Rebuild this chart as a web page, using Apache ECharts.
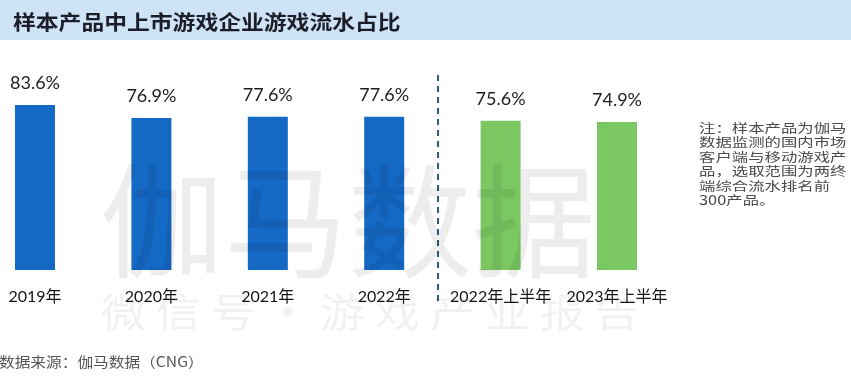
<!DOCTYPE html>
<html>
<head>
<meta charset="utf-8">
<script src="https://cdn.jsdelivr.net/npm/echarts@6/dist/echarts.min.js"></script>
<style>
html,body{margin:0;padding:0;background:#fff;}
#c{width:851px;height:383px;}
</style>
</head>
<body>
<div id="c"></div>
<script>
const categories = ['2019年', '2020年', '2021年', '2022年', '2022年上半年', '2023年上半年'];
const shareValues = [83.6, 76.9, 77.6, 77.6, 75.6, 74.9];
const annualCount = 4;
const titleText = '样本产品中上市游戏企业游戏流水占比';
const noteText = '注：样本产品为伽马\n数据监测的国内市场\n客户端与移动游戏产\n品，选取范围为两终\n端综合流水排名前\n300产品。';
const sourceText = '数据来源：伽马数据（CNG）';

const chart = echarts.init(document.getElementById('c'), null, {renderer: 'canvas'});
const CJK = "'Noto Sans CJK SC', 'Noto Sans', sans-serif";
const LAT = "Lato, 'Noto Sans CJK SC', sans-serif";

chart.setOption({
  backgroundColor: '#ffffff',
  animation: false,
  grid: {left: 35, right: 234, top: 72.5, bottom: 113, containLabel: false},
  xAxis: {
    type: 'category',
    data: categories,
    boundaryGap: false,
    axisLine: {show: false},
    axisTick: {show: false},
    axisLabel: {color: '#151515', fontSize: 16, fontFamily: LAT, margin: 19, interval: 0}
  },
  yAxis: {type: 'value', min: 0, max: 100, show: false, splitLine: {show: false}},
  series: [{
    type: 'bar',
    data: shareValues,
    barWidth: 40,
    itemStyle: {
      color: (p) => p.dataIndex < annualCount ? '#1469c4' : '#7bc862'
    },
    label: {
      show: true,
      position: 'top',
      distance: 13,
      formatter: (p) => p.value.toFixed(1) + '%',
      color: '#1e1e1e',
      fontSize: 18,
      fontFamily: LAT
    },
    z: 2
  }],
  graphic: [
    {type: 'rect', z: 0, shape: {x: 0, y: 0, width: 851, height: 40}, style: {fill: '#cfe3f6'}},
    {type: 'text', z: 10, x: 13, y: 22.5, scaleX: 1.14,
      style: {text: titleText, font: 'bold 20px ' + CJK, fill: '#1b1d28', verticalAlign: 'middle', align: 'left'}},
    {type: 'line', z: 5, shape: {x1: 438, y1: 75, x2: 438, y2: 303},
      style: {stroke: '#2b5d7a', lineWidth: 2, lineDash: [6, 5]}},
    {type: 'text', z: 10, x: 699, y: 121, scaleX: 1.31,
      style: {text: noteText, font: '12.5px ' + CJK, fill: '#4a4a4a', lineHeight: 14.4, align: 'left', verticalAlign: 'top'}},
    {type: 'text', z: 10, x: -1, y: 361.5, scaleX: 1.12,
      style: {text: sourceText, font: '14px ' + CJK, fill: '#555555', verticalAlign: 'middle', align: 'left'}},
    {type: 'text', z: 20, x: 100, y: 221, silent: true,
      style: {text: '伽马数据', font: '124px ' + CJK, fill: 'rgba(0,0,0,0.07)', verticalAlign: 'middle', align: 'left'}},
    {type: 'text', z: 20, x: 101, y: 312, scaleX: 1.12, silent: true,
      style: {text: '微 信 号 · 游 戏 产 业 报 告', font: '40px ' + CJK, fill: 'rgba(0,0,0,0.055)', verticalAlign: 'middle', align: 'left'}}
  ]
});
</script>
</body>
</html>
